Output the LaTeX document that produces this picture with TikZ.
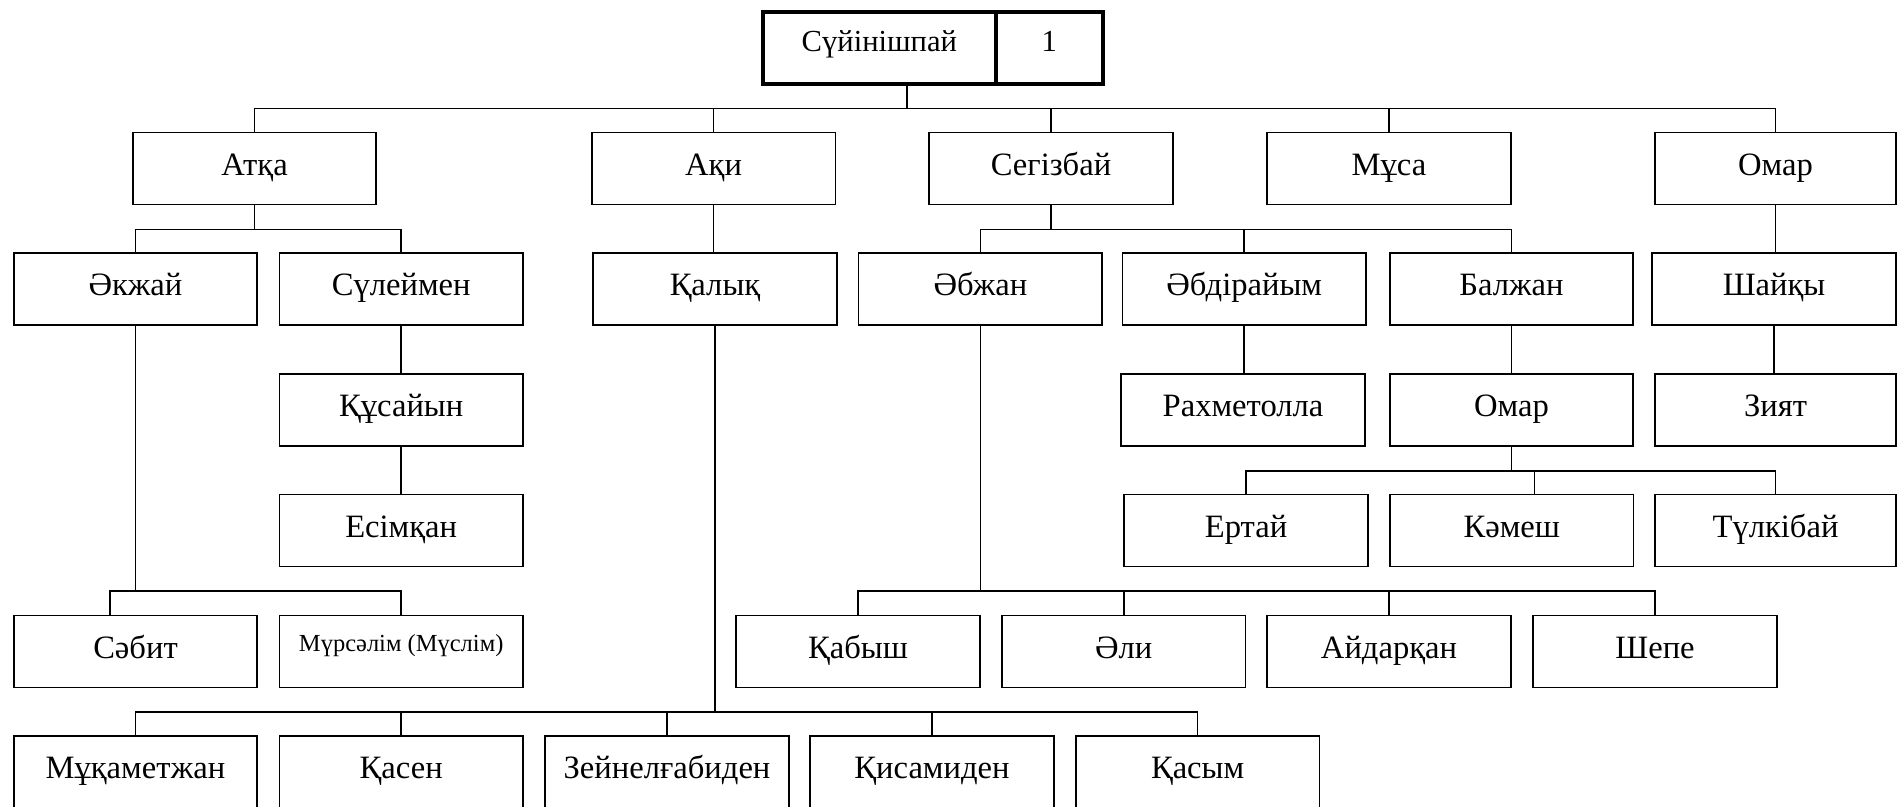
\documentclass[tikz,border=0pt]{standalone}
\usepackage{fontspec}
\setmainfont{Liberation Serif}
\begin{document}
\begin{tikzpicture}[x=1pt,y=-1pt,
  box/.style={draw, line width=1.6pt, minimum width=243.5pt, minimum height=72pt,
    inner sep=0pt, outer sep=0pt, font=\fontsize{32.6}{39}\selectfont,
    text height=24pt, text depth=10.8pt},
  small/.style={font=\fontsize{24.5}{30}\selectfont, text height=12pt, text depth=13pt},
  rootbox/.style={draw, line width=4pt, minimum height=72.6pt, inner sep=0pt, outer sep=0pt,
    font=\fontsize{30.6}{37}\selectfont, text height=20pt, text depth=12.6pt},
  conn/.style={line width=1.6pt}]
\path[use as bounding box, clip] (0,0) rectangle (1897,806);

% root
\node[rootbox, minimum width=233.3pt] (rootname) at (879.35,48) {Сүйінішпай};
\node[rootbox, minimum width=106.7pt] (rootnum) at (1049.35,48) {1};

% level 1
\node[box] (atka) at (254.5,168.4) {Атқа};
\node[box] (aki) at (713.6,168.4) {Ақи};
\node[box] (segizbai) at (1051,168.4) {Сегізбай};
\node[box] (musa) at (1389,168.4) {Мұса};
\node[box, minimum width=241pt] (omarA) at (1775.5,168.4) {Омар};

% level 2
\node[box] (akzhai) at (135.5,289.2) {Әкжай};
\node[box] (suleimen) at (401.2,289.2) {Сүлеймен};
\node[box] (kalyk) at (715,289.2) {Қалық};
\node[box] (abzhan) at (980.4,289.2) {Әбжан};
\node[box] (abdiraiym) at (1244.2,289.2) {Әбдірайым};
\node[box] (balzhan) at (1511.5,289.2) {Балжан};
\node[box] (shaiky) at (1774,289.2) {Шайқы};

% level 3
\node[box] (kusaiyn) at (401.2,410) {Құсайын};
\node[box] (rakhmetolla) at (1243,410) {Рахметолла};
\node[box] (omarB) at (1511.5,410) {Омар};
\node[box, minimum width=241pt] (ziyat) at (1775.5,410) {Зият};

% level 4
\node[box] (esimkan) at (401.2,530.5) {Есімқан};
\node[box] (ertai) at (1246,530.5) {Ертай};
\node[box] (kamesh) at (1511.8,530.5) {Кәмеш};
\node[box, minimum width=241pt] (tulkibai) at (1775.5,530.5) {Түлкібай};

% level 5
\node[box] (sabit) at (135.5,651.5) {Сәбит};
\node[box, small] (mursalim) at (401.2,651.5) {Мүрсәлім (Мүслім)};
\node[box] (kabysh) at (858,651.5) {Қабыш};
\node[box] (ali) at (1123.7,651.5) {Әли};
\node[box] (aidarkan) at (1389,651.5) {Айдарқан};
\node[box] (shepe) at (1655,651.5) {Шепе};

% level 6
\node[box] (mukametzhan) at (135.5,772.2) {Мұқаметжан};
\node[box] (kasen) at (401.2,772.2) {Қасен};
\node[box] (zeinel) at (667,772.2) {Зейнелғабиден};
\node[box] (kisamiden) at (932,772.2) {Қисамиден};
\node[box] (kasym) at (1197.6,772.2) {Қасым};

% bus levels
\coordinate (bus0) at (0,108.5);
\coordinate (bus1) at (0,229.3);
\coordinate (bus4) at (0,470.7);
\coordinate (bus5) at (0,591);
\coordinate (bus6) at (0,711.7);
\coordinate (rootdrop) at ([xshift=27.4pt]rootname.south);
\coordinate (sabitdrop) at ([xshift=-25.8pt]sabit.north);
\coordinate (kameshdrop) at ([xshift=22.5pt]kamesh.north);

% root -> level 1
\draw[conn] (rootdrop) -- (rootdrop |- bus0);
\draw[conn] (atka.north) |- (omarA.north |- bus0) -- (omarA.north);
\foreach \n in {aki,segizbai,musa} \draw[conn] (\n.north) -- (\n.north |- bus0);

% Атқа
\draw[conn] (atka.south) -- (atka.south |- bus1);
\draw[conn] (akzhai.north) |- (suleimen.north |- bus1) -- (suleimen.north);
% Ақи
\draw[conn] (aki.south) -- (aki.south |- kalyk.north);
% Сегізбай
\draw[conn] (segizbai.south) -- (segizbai.south |- bus1);
\draw[conn] (abzhan.north) |- (balzhan.north |- bus1) -- (balzhan.north);
\draw[conn] (abdiraiym.north) -- (abdiraiym.north |- bus1);
% Омар
\draw[conn] (omarA.south) -- (omarA.south |- shaiky.north);

% chains
\draw[conn] (suleimen.south) -- (suleimen.south |- kusaiyn.north);
\draw[conn] (kusaiyn.south) -- (kusaiyn.south |- esimkan.north);
\draw[conn] (abdiraiym.south) -- (abdiraiym.south |- rakhmetolla.north);
\draw[conn] (balzhan.south) -- (balzhan.south |- omarB.north);
\draw[conn] (shaiky.south) -- (shaiky.south |- ziyat.north);

% Омар (2)
\draw[conn] (omarB.south) -- (omarB.south |- bus4);
\draw[conn] (ertai.north) |- (tulkibai.north |- bus4) -- (tulkibai.north);
\draw[conn] (kameshdrop) -- (kameshdrop |- bus4);

% Әкжай
\draw[conn] (akzhai.south) -- (akzhai.south |- bus5);
\draw[conn] (sabitdrop) |- (mursalim.north |- bus5) -- (mursalim.north);

% Әбжан
\draw[conn] (abzhan.south) -- (abzhan.south |- bus5);
\draw[conn] (kabysh.north) |- (shepe.north |- bus5) -- (shepe.north);
\foreach \n in {ali,aidarkan} \draw[conn] (\n.north) -- (\n.north |- bus5);

% Қалық
\draw[conn] (kalyk.south) -- (kalyk.south |- bus6);
\draw[conn] (mukametzhan.north) |- (kasym.north |- bus6) -- (kasym.north);
\foreach \n in {kasen,zeinel,kisamiden} \draw[conn] (\n.north) -- (\n.north |- bus6);
\end{tikzpicture}
\end{document}
